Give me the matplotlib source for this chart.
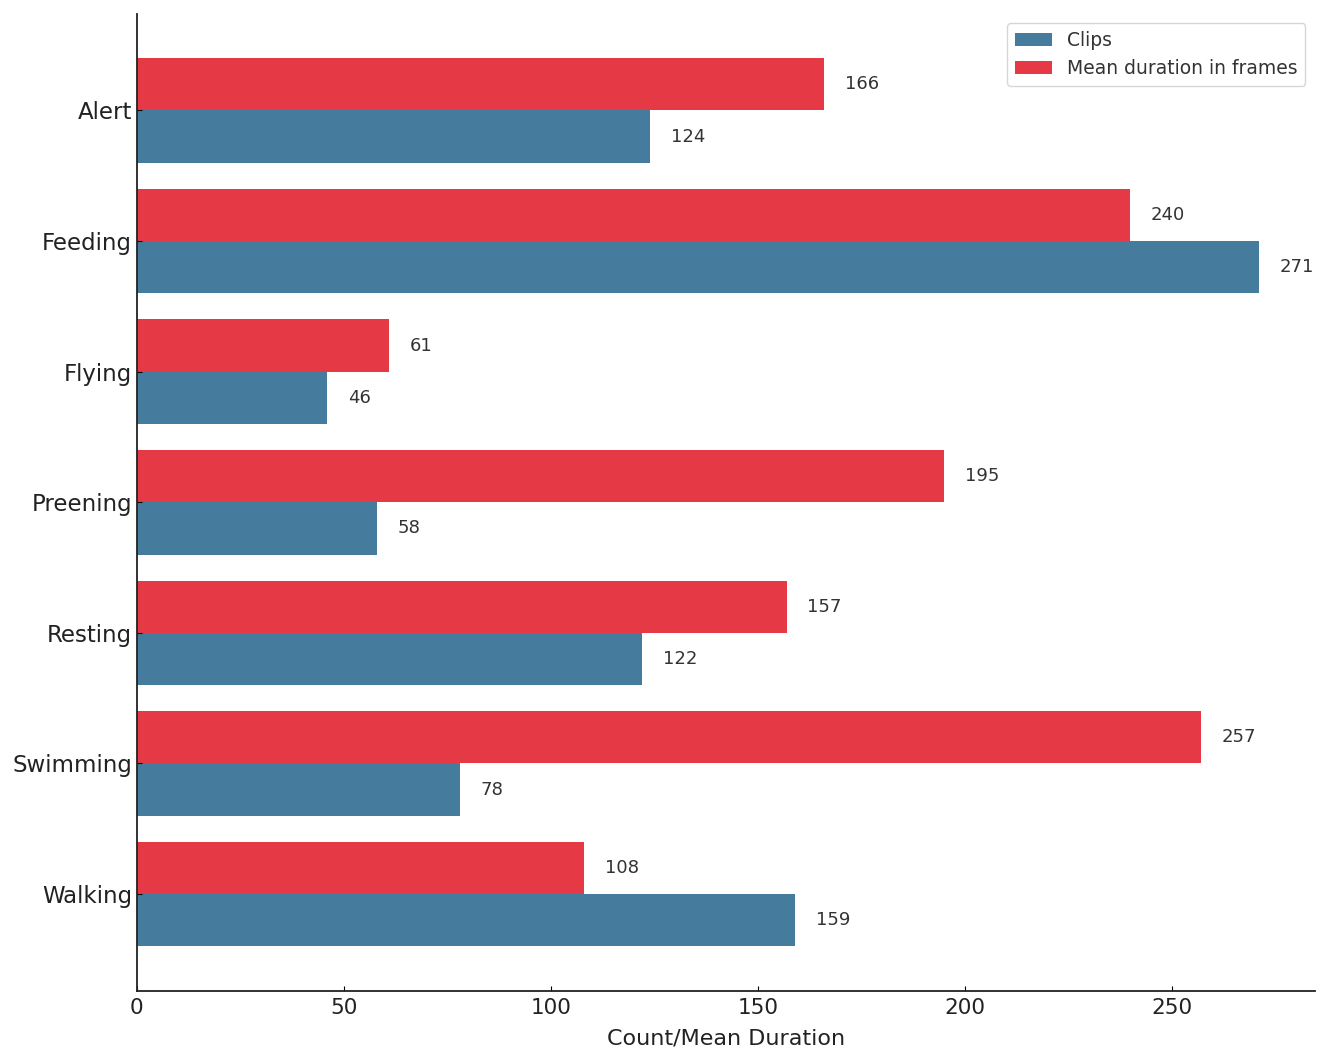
import matplotlib
matplotlib.use("Agg")
import matplotlib.pyplot as plt
import numpy as np

categories = ["Alert", "Feeding", "Flying", "Preening", "Resting", "Swimming", "Walking"]
clips = [124, 271, 46, 58, 122, 78, 159]
mean_duration = [166, 240, 61, 195, 157, 257, 108]

fig, ax = plt.subplots(figsize=(13.28, 10.63), dpi=100)
fig.subplots_adjust(left=0.103, right=0.990, top=0.987, bottom=0.068)

y = np.arange(len(categories))
h = 0.4
b1 = ax.barh(y + h / 2, clips, height=h, color="#457b9d", label="Clips")
b2 = ax.barh(y - h / 2, mean_duration, height=h, color="#e63946", label="Mean duration in frames")

for rects in (b1, b2):
    for r in rects:
        w = r.get_width()
        ax.text(w + 5, r.get_y() + r.get_height() / 2, f"{int(w)}",
                va="center", ha="left", fontsize=13, color="#333333")

ax.set_yticks(y)
ax.set_yticklabels(categories, fontsize=16.5, color="#222222")
ax.invert_yaxis()
ax.tick_params(axis="x", labelsize=15.5, direction="in", labelcolor="#222222", pad=5)
ax.tick_params(axis="y", direction="in")
ax.set_xlabel("Count/Mean Duration", fontsize=16, color="#222222", labelpad=8)
for s in ("top", "right"):
    ax.spines[s].set_visible(False)
for s in ("left", "bottom"):
    ax.spines[s].set_linewidth(1.3)
    ax.spines[s].set_color("#222222")

leg = ax.legend(loc="upper right", fontsize=13.5, frameon=True)
for t in leg.get_texts():
    t.set_color("#333333")

fig.savefig("out.png", dpi=100)
